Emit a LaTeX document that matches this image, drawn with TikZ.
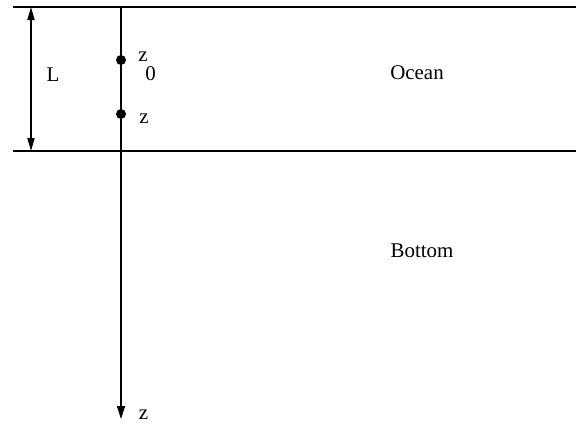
\documentclass[tikz,border=0pt]{standalone}
\usepackage{fontspec}
\setmainfont{Liberation Serif}
\usetikzlibrary{arrows.meta, positioning}

\tikzset{
    layer line/.style={line width=1.1bp},
    depth axis/.style={line width=1.1bp, -{Triangle[length=13bp, width=8bp]}},
    span arrow/.style={line width=1.8bp, {Triangle[length=13bp, width=7bp]}-{Triangle[length=13bp, width=7bp]}},
    point dot/.style={circle, fill, inner sep=0pt, minimum size=10bp},
    label text/.style={inner sep=0pt, font=\fontsize{21}{24}\selectfont}
}

\begin{document}
\begin{tikzpicture}[x=1bp, y=-1bp]
    \useasboundingbox (0,0) rectangle (576,423);

    % interfaces
    \coordinate (surfL) at (13,7);
    \coordinate (surfR) at (576,7);
    \coordinate (botL) at (13,151);
    \coordinate (botR) at (576,151);
    \draw[layer line] (surfL) -- (surfR);
    \draw[layer line] (botL) -- (botR);

    % depth axis
    \coordinate (axtop) at (121,7);
    \coordinate (axend) at (121,419);
    \draw[depth axis] (axtop) -- (axend);
    \node[label text] (zaxis) at (143.5,415) {z};

    % thickness L
    \coordinate (Ltop) at (31,7);
    \coordinate (Lbot) at (31,151);
    \draw[span arrow] (Ltop) -- (Lbot);
    \node[label text] (Llab) at (53,75) {L};

    % points z0 and z
    \node[point dot] (pz0) at (121,60) {};
    \node[point dot] (pz) at (121,114) {};
    \node[label text] (z0a) at (143,57) {z};
    \node[label text] (z0b) at (150.5,74) {0};
    \node[label text] (zlab) at (144,119) {z};

    % regions
    \node[label text] (ocean) at (417,72.5) {Ocean};
    \node[label text] (bottom) at (422,251) {Bottom};
\end{tikzpicture}
\end{document}
